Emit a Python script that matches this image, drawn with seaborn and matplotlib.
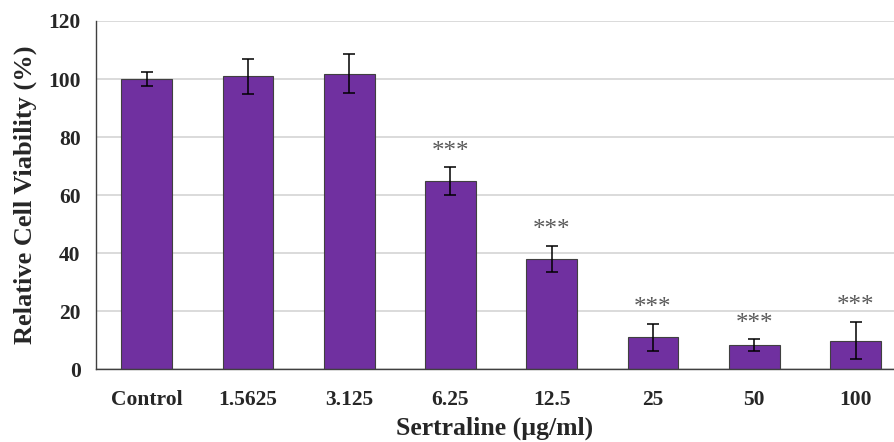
import pandas as pd
import seaborn as sns
import matplotlib.pyplot as plt

doses = ['Control', '1.5625', '3.125', '6.25', '12.5', '25', '50', '100']
viability = [100.0, 101.0, 101.8, 64.7, 37.9, 10.9, 8.3, 9.8]
sd = [2.5, 6.0, 6.7, 4.8, 4.4, 4.8, 1.9, 6.3]
stars = ['', '', '', '***', '***', '***', '***', '***']

df = pd.DataFrame({'dose': doses, 'viability': viability, 'sd': sd})

sns.set_theme(style='white')
plt.rcParams['font.family'] = ['Liberation Serif', 'DejaVu Serif']
plt.rcParams['font.weight'] = 'bold'

fig = plt.figure(figsize=(8.94, 4.42), dpi=100)
ax = fig.add_axes([0.1074, 0.165, 0.8926, 0.7875])

sns.barplot(data=df, x='dose', y='viability', color='#7030A0', saturation=1,
            width=0.5, errorbar=None, edgecolor='#404040', linewidth=0.8, ax=ax)
ax.errorbar(range(len(doses)), df['viability'], yerr=df['sd'], fmt='none',
            ecolor='black', elinewidth=1.1, capsize=4.5, capthick=1.1)

# significance marks
for i, (v, e, s) in enumerate(zip(viability, sd, stars)):
    if s:
        ax.text(i, v + e + 5.5, s, ha='center', va='center', fontsize=18,
                color='#595959', fontweight='normal')

ax.set_ylim(0, 120)
ax.set_xlim(-0.5, 7.38)
ax.set_yticks(range(0, 121, 20))
ax.yaxis.grid(True, color='#DADADA', linewidth=1.4)
ax.set_axisbelow(True)
for side in ['top', 'right']:
    ax.spines[side].set_visible(False)
for side in ['left', 'bottom']:
    ax.spines[side].set_color('#404040')
    ax.spines[side].set_linewidth(1.0)
ax.tick_params(axis='both', direction='out', length=5, width=1, color='#404040',
               labelsize=15.5, pad=6)
ax.tick_params(axis='x', pad=10)
for lab in ax.get_xticklabels() + ax.get_yticklabels():
    lab.set_fontweight('bold')

ax.set_xlabel('Sertraline (µg/ml)', fontsize=18.5, fontweight='bold', labelpad=5)
ax.set_ylabel('Relative Cell Viability (%)', fontsize=19, fontweight='bold', labelpad=8)

fig.savefig('out.png', dpi=100)
